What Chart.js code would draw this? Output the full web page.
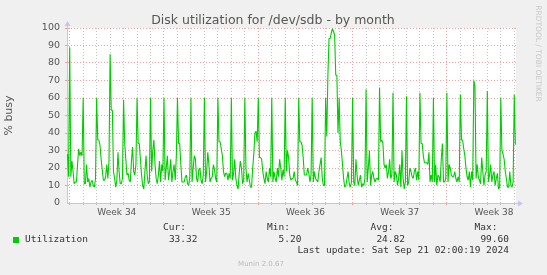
<!DOCTYPE html>
<html><head><meta charset="utf-8">
<script src="https://cdn.jsdelivr.net/npm/chart.js@4.4.1/dist/chart.umd.min.js"></script>
<style>html,body{margin:0;padding:0;background:#f0f0f0;overflow:hidden}canvas{display:block}</style>
</head><body>
<canvas id="c" width="547" height="275"></canvas>
<script>
// ---- data (one sample per 2 hours) ----
const titleText = 'Disk utilization for /dev/sdb - by month';
const yAxisTitle = '% busy';
const seriesName = 'Utilization';
const weekLabels = ['Week 34', 'Week 35', 'Week 36', 'Week 37', 'Week 38'];
const weekStartDays = [0, 7, 14, 21, 28];
const yTickValues = [0, 10, 20, 30, 40, 50, 60, 70, 80, 90, 100];
const statLabels = ['Cur:', 'Min:', 'Avg:', 'Max:'];
const statValues = ['33.32', '5.20', '24.82', '99.60'];
const lastUpdate = 'Last update: Sat Sep 21 02:00:19 2024';
const footerText = 'Munin 2.0.67';
const sideText = 'RRDTOOL / TOBI OETIKER';

const xMinDay = -0.2, xMaxDay = 33.13;
const firstSampleDay = -2 / 12, sampleStepDay = 1 / 12;

const leadIn = [28, 15];
const week34 = [
  89, 15, 24, 18, 11, 12, 12, 22, 31, 27, 29, 27,
  60, 11, 11, 22, 12, 14, 9, 12, 13, 10, 9, 14,
  60, 36, 36, 33, 25, 19, 13, 13, 15, 22, 14, 24,
  85, 53, 53, 18, 14, 9, 13, 29, 18, 11, 11, 14,
  59, 34, 25, 16, 17, 13, 12, 24, 32, 18, 16, 22,
  60, 34, 34, 25, 16, 10, 8, 18, 27, 16, 11, 12,
  60, 18, 30, 36, 22, 14, 11, 16, 24, 12, 22, 18
];
const week35 = [
  60, 13, 20, 27, 13, 18, 25, 12, 18, 22, 13, 27,
  60, 34, 34, 22, 12, 12, 12, 15, 16, 11, 10, 15,
  60, 12, 20, 27, 25, 14, 12, 19, 20, 13, 11, 16,
  60, 12, 18, 29, 22, 12, 14, 15, 22, 19, 14, 12,
  60, 35, 35, 31, 27, 18, 15, 17, 17, 13, 17, 14,
  60, 13, 17, 25, 14, 10, 8, 17, 24, 20, 11, 13,
  60, 20, 12, 17, 13, 9, 9, 20, 28, 40, 41, 35
];
const week36 = [
  60, 26, 26, 25, 18, 14, 11, 18, 14, 12, 20, 15,
  60, 12, 18, 14, 12, 20, 15, 25, 20, 13, 19, 15,
  60, 18, 30, 26, 16, 13, 14, 14, 18, 13, 12, 10,
  60, 35, 35, 33, 26, 16, 16, 16, 20, 17, 12, 16,
  60, 12, 18, 14, 13, 12, 18, 22, 26, 14, 10, 10,
  60, 38, 73, 94, 94, 97, 99.6, 98, 96, 73, 73, 40,
  60, 35, 30, 22, 14, 9, 10, 14, 18, 11, 9, 12
];
const week37 = [
  60, 12, 10, 25, 16, 10, 13, 16, 9, 11, 10, 14,
  65, 12, 20, 30, 10, 16, 18, 14, 12, 14, 14, 13,
  66, 35, 36, 34, 22, 20, 22, 14, 18, 25, 14, 16,
  63, 12, 18, 16, 10, 14, 22, 9, 30, 14, 8, 12,
  61, 10, 12, 20, 18, 15, 14, 18, 20, 13, 18, 13,
  63, 34, 34, 27, 23, 23, 23, 22, 29, 12, 16, 12,
  60, 12, 22, 10, 16, 15, 12, 25, 34, 12, 12, 14
];
const week38 = [
  63, 12, 22, 20, 16, 15, 15, 18, 14, 12, 15, 12,
  62, 36, 36, 31, 27, 20, 15, 13, 18, 9, 18, 13,
  70, 67, 14, 22, 15, 13, 11, 26, 18, 10, 16, 18,
  64, 12, 16, 22, 12, 16, 18, 10, 14, 17, 8, 9,
  60, 30, 28, 25, 18, 14, 9, 9, 18, 10, 9, 12,
  62, 33.32
];

const utilization = [].concat(leadIn, week34, week35, week36, week37, week38);
const points = utilization.map((v, i) => ({ x: firstSampleDay + i * sampleStepDay, y: v }));

// ---- styling ----
const C_BG = '#f0f0f0', C_PLOT = '#ffffff';
const C_LINE = '#00cc00';
const C_MGRID = 'rgba(220,100,100,0.6)';
const C_GRID = 'rgba(140,140,140,0.5)';
const C_AXIS = '#c4c4ee';
const C_TEXT = '#555555';
const FONT = '"DejaVu Sans", sans-serif';
const MONO = '"DejaVu Sans Mono", monospace';

const weekMid = w => w + 3.5;
const isWeekMid = v => weekStartDays.some(w => Math.abs(weekMid(w) - v) < 1e-6);

const decor = {
  id: 'decor',
  beforeDraw(chart) {
    const { ctx, chartArea: a } = chart;
    ctx.save();
    ctx.fillStyle = C_BG;
    ctx.fillRect(0, 0, chart.width, chart.height);
    ctx.fillStyle = C_PLOT;
    ctx.fillRect(a.left, a.top, a.right - a.left, a.bottom - a.top);
    ctx.restore();
  },
  afterDraw(chart) {
    const { ctx, chartArea: a } = chart;
    ctx.save();
    // axis extensions + arrows
    ctx.strokeStyle = C_AXIS; ctx.fillStyle = C_AXIS; ctx.lineWidth = 1;
    ctx.beginPath();
    ctx.moveTo(a.left + 0.5, a.top); ctx.lineTo(a.left + 0.5, a.top - 3);
    ctx.moveTo(a.right, a.bottom + 0.5); ctx.lineTo(a.right + 3, a.bottom + 0.5);
    ctx.stroke();
    ctx.beginPath();
    ctx.moveTo(a.left + 0.5, a.top - 7); ctx.lineTo(a.left - 2.5, a.top - 2); ctx.lineTo(a.left + 3.5, a.top - 2); ctx.closePath(); ctx.fill();
    ctx.beginPath();
    ctx.moveTo(a.right + 7, a.bottom + 0.5); ctx.lineTo(a.right + 2, a.bottom - 2.5); ctx.lineTo(a.right + 2, a.bottom + 3.5); ctx.closePath(); ctx.fill();

    // title
    ctx.fillStyle = C_TEXT;
    ctx.font = '12.5px ' + FONT;
    ctx.textAlign = 'center'; ctx.textBaseline = 'alphabetic';
    ctx.fillText(titleText, 273, 24);

    // side text
    ctx.save();
    ctx.translate(537.5, 53.5);
    ctx.rotate(Math.PI / 2);
    ctx.fillStyle = '#c8c8c8';
    ctx.font = '7.5px ' + FONT;
    ctx.textAlign = 'center'; ctx.textBaseline = 'middle';
    ctx.fillText(sideText, 0, 0);
    ctx.restore();

    // legend
    const colRight = [197.5, 301.5, 405, 509];
    ctx.font = '9.5px ' + MONO;
    ctx.fillStyle = '#333333';
    ctx.textBaseline = 'middle';
    ctx.textAlign = 'right';
    statLabels.forEach((s, i) => ctx.fillText(s, colRight[i] - 11.5, 228));
    statValues.forEach((s, i) => ctx.fillText(s, colRight[i], 239.5));
    ctx.fillText(lastUpdate, 509, 251);
    ctx.textAlign = 'left';
    ctx.fillText(seriesName, 25, 239.5);
    ctx.fillStyle = C_LINE;
    ctx.fillRect(13, 237, 6, 6);

    // footer
    ctx.fillStyle = '#bbbbbb';
    ctx.font = '7px ' + FONT;
    ctx.textAlign = 'center';
    ctx.fillText(footerText, 261, 264);
    ctx.restore();
  }
};

new Chart(document.getElementById('c'), {
  type: 'line',
  data: {
    datasets: [{
      label: seriesName,
      data: points,
      borderColor: C_LINE,
      borderWidth: 1.1,
      borderJoinStyle: 'bevel',
      pointRadius: 0,
      fill: false,
      tension: 0
    }]
  },
  options: {
    responsive: false,
    animation: false,
    devicePixelRatio: 1,
    parsing: false,
    layout: { padding: { left: 0, right: 31, top: 28, bottom: 54 } },
    plugins: { legend: { display: false }, tooltip: { enabled: false }, title: { display: false } },
    scales: {
      x: {
        type: 'linear',
        min: xMinDay, max: xMaxDay,
        afterBuildTicks(scale) {
          const t = [];
          for (let d = 0; d <= Math.floor(xMaxDay); d++) t.push({ value: d });
          weekStartDays.forEach(w => t.push({ value: weekMid(w) }));
          t.sort((p, q) => p.value - q.value);
          scale.ticks = t;
        },
        afterFit(scale) { scale.height = 18; },
        grid: {
          lineWidth: 1,
          tickLength: 2,
          color: ctx => {
            const v = ctx.tick && ctx.tick.value;
            if (v === undefined || isWeekMid(v)) return 'rgba(0,0,0,0)';
            return weekStartDays.includes(v) ? C_MGRID : C_GRID;
          }
        },
        border: { display: true, color: C_AXIS, dash: [1, 2] },
        ticks: {
          autoSkip: false, maxRotation: 0, minRotation: 0, padding: 2,
          color: C_TEXT, font: { family: FONT, size: 9 },
          callback: v => {
            const i = weekStartDays.findIndex(w => Math.abs(weekMid(w) - v) < 1e-6);
            return i >= 0 ? weekLabels[i] : '';
          }
        }
      },
      y: {
        type: 'linear',
        min: 0, max: 100,
        afterFit(scale) { scale.width = 67; },
        afterBuildTicks(scale) {
          const t = [];
          yTickValues.forEach((v, i) => {
            t.push({ value: v });
            if (i < yTickValues.length - 1) t.push({ value: (v + yTickValues[i + 1]) / 2 });
          });
          scale.ticks = t;
        },
        grid: {
          lineWidth: 1,
          tickLength: 2,
          color: ctx => {
            const v = ctx.tick && ctx.tick.value;
            if (v === undefined || v === 0) return 'rgba(0,0,0,0)';
            return yTickValues.includes(v) ? C_MGRID : C_GRID;
          }
        },
        border: { display: true, color: C_AXIS, dash: [1, 2] },
        ticks: {
          padding: 5, color: C_TEXT, font: { family: FONT, size: 9.5 },
          callback: v => (yTickValues.includes(v) ? String(v) : '')
        },
        title: { display: true, text: yAxisTitle, color: C_TEXT, font: { family: FONT, size: 11 }, padding: { top: 3, bottom: 0 } }
      }
    }
  },
  plugins: [decor]
});
</script>
</body></html>
